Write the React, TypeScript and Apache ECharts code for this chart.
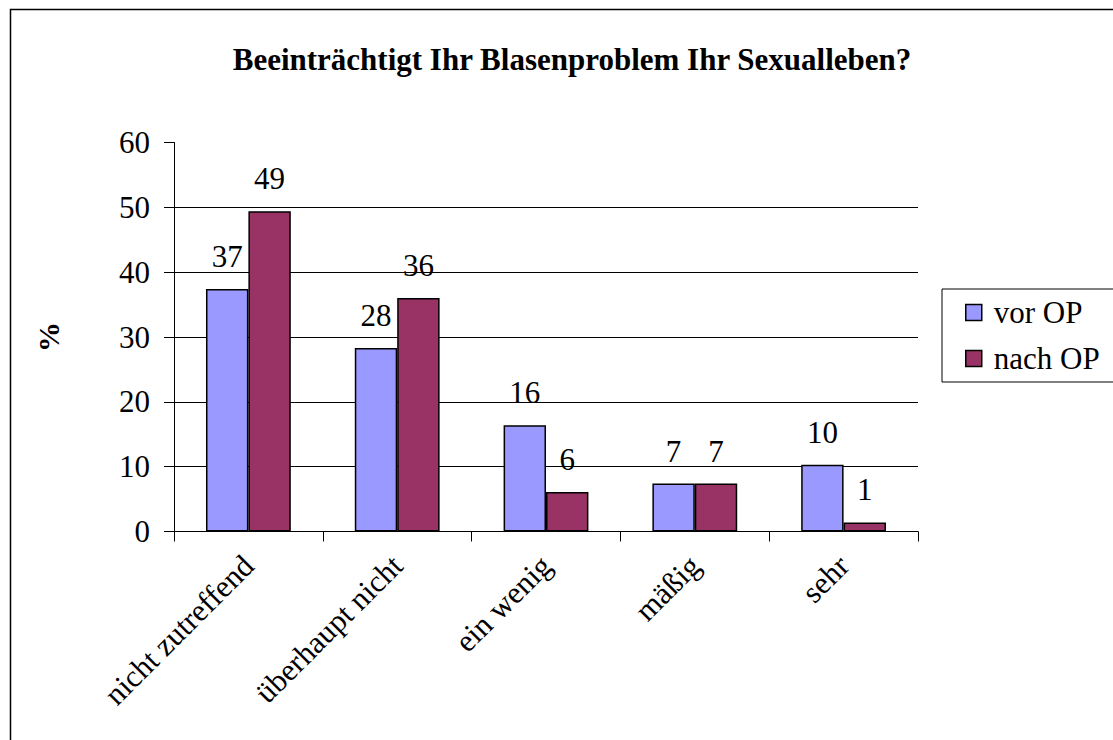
import React, { useEffect, useRef } from "react";
import * as echarts from "echarts";

const categories = ["nicht zutreffend", "überhaupt nicht", "ein wenig", "mäßig", "sehr"];
const vorOP = [37.4, 28.3, 16.4, 7.4, 10.3];
const nachOP = [49.4, 36.0, 6.1, 7.4, 1.4];
const seriesNames = ["vor OP", "nach OP"];
const titleText = "Beeinträchtigt Ihr Blasenproblem Ihr Sexualleben?";
const yAxisName = "%";

const FONT = "Liberation Serif";

export default function App() {
  const ref = useRef<HTMLDivElement>(null);
  useEffect(() => {
    if (!ref.current) return;
    const chart = echarts.init(ref.current, undefined, { renderer: "svg" });
    const labelOpt = {
      show: true,
      position: "top",
      distance: 17,
      color: "#000",
      fontSize: 31,
      fontFamily: FONT,
      formatter: (p: any) => String(Math.round(p.value)),
    };
    chart.setOption({
      animation: false,
      backgroundColor: "#fff",
      textStyle: { fontFamily: FONT },
      title: {
        text: titleText,
        left: 567,
        top: 39,
        textAlign: "center",
        textStyle: { fontFamily: FONT, fontWeight: "bold", fontSize: 31, color: "#000" },
      },
      graphic: [
        {
          type: "rect",
          left: 8,
          top: 7,
          shape: { x: 0, y: 0, width: 1200, height: 800 },
          style: { fill: "none", stroke: "#000", lineWidth: 1.5 },
          silent: true,
          z: -1,
        },
      ],
      legend: {
        orient: "vertical",
        left: 942,
        top: 289,
        padding: [8, 14, 8, 23],
        itemGap: 15,
        itemWidth: 16,
        itemHeight: 16,
        borderColor: "#000",
        borderWidth: 1,
        backgroundColor: "#fff",
        icon: "rect",
        itemStyle: { borderColor: "#000", borderWidth: 1.5 },
        textStyle: { fontFamily: FONT, fontSize: 31, color: "#000", padding: [0, 0, 0, 7] },
        data: seriesNames,
      },
      grid: { left: 174, right: 195, top: 142.5, bottom: 208.5, containLabel: false },
      xAxis: {
        type: "category",
        data: categories,
        axisLine: { show: true, lineStyle: { color: "#000", width: 1 } },
        axisTick: { show: true, length: 10, lineStyle: { color: "#000" } },
        axisLabel: {
          rotate: 45,
          margin: 29,
          color: "#000",
          fontSize: 31,
          fontFamily: FONT,
          interval: 0,
        },
      },
      yAxis: {
        type: "value",
        min: 0,
        max: 60,
        interval: 10,
        name: yAxisName,
        nameLocation: "middle",
        nameGap: 111,
        nameTextStyle: { fontFamily: FONT, fontWeight: "bold", fontSize: 30, color: "#000" },
        axisLine: { show: true, lineStyle: { color: "#000", width: 1 } },
        axisTick: { show: true, length: 10, lineStyle: { color: "#000" } },
        axisLabel: { color: "#000", fontSize: 31, fontFamily: FONT, margin: 24 },
        splitLine: { show: true, showMaxLine: false, lineStyle: { color: "#000", width: 1 } },
      },
      series: [
        {
          name: seriesNames[0],
          type: "bar",
          data: vorOP,
          barGap: "0%",
          barCategoryGap: "43%",
          itemStyle: { color: "#9999FF", borderColor: "#000", borderWidth: 1.5 },
          label: labelOpt,
        },
        {
          name: seriesNames[1],
          type: "bar",
          data: nachOP,
          barGap: "0%",
          barCategoryGap: "43%",
          itemStyle: { color: "#993366", borderColor: "#000", borderWidth: 1.5 },
          label: labelOpt,
        },
      ],
    });
    return () => chart.dispose();
  }, []);
  return (
    <div
      ref={ref}
      style={{ position: "fixed", left: 0, top: 0, width: 1113, height: 740, background: "#fff" }}
    />
  );
}
